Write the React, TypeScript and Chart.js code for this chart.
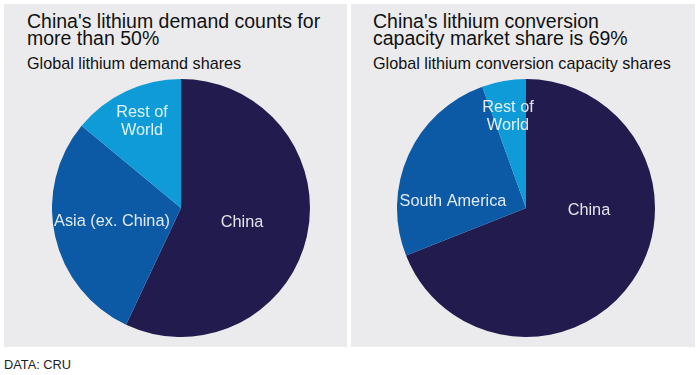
import React, { useEffect, useRef } from "react";
import { Chart, registerables } from "chart.js";

Chart.register(...registerables);

// ---- Data ----
const demandCategories = ["China", "Asia (ex. China)", "Rest of World"];
const demandShares = [57, 29, 14];
const demandLabelLines = [["China"], ["Asia (ex. China)"], ["Rest of", "World"]];

const conversionCategories = ["China", "South America", "Rest of World"];
const conversionShares = [69, 25.5, 5.5];
const conversionLabelLines = [["China"], ["South America"], ["Rest of", "World"]];

const sliceColors = ["#211c4d", "#0c5aa6", "#0e9bd8"];

// label anchors as fractions of radius from pie centre (styling only)
const demandAnchors = [
  [0.473, 0.116],
  [-0.535, 0.101],
  [-0.302, -0.674],
];
const conversionAnchors = [
  [0.488, 0.023],
  [-0.566, -0.047],
  [-0.14, -0.713],
];

const sliceLabelPlugin = {
  id: "sliceLabels",
  afterDatasetsDraw(chart: any, _args: any, opts: any) {
    const meta = chart.getDatasetMeta(0);
    const ctx = chart.ctx;
    ctx.save();
    ctx.fillStyle = opts.color;
    ctx.font = opts.font;
    ctx.textAlign = "center";
    ctx.textBaseline = "middle";
    meta.data.forEach((arc: any, i: number) => {
      const p = arc.getProps(["x", "y", "outerRadius"], true);
      const a = opts.anchors[i];
      const lines: string[] = opts.lines[i];
      const lh = opts.lineHeight;
      lines.forEach((t, j) => {
        ctx.fillText(
          t,
          p.x + a[0] * p.outerRadius,
          p.y + a[1] * p.outerRadius + (j - (lines.length - 1) / 2) * lh
        );
      });
    });
    ctx.restore();
  },
};

function Pie(props: {
  categories: string[];
  values: number[];
  lines: string[][];
  anchors: number[][];
  style: React.CSSProperties;
}) {
  const ref = useRef<HTMLCanvasElement | null>(null);
  useEffect(() => {
    if (!ref.current) return;
    const chart = new Chart(ref.current, {
      type: "pie",
      data: {
        labels: props.categories,
        datasets: [
          {
            data: props.values,
            backgroundColor: sliceColors,
            borderWidth: 0,
          },
        ],
      },
      options: {
        animation: false,
        responsive: false,
        layout: { padding: 0 },
        plugins: {
          legend: { display: false },
          tooltip: { enabled: false },
          sliceLabels: {
            anchors: props.anchors,
            lines: props.lines,
            color: "rgba(255,255,255,0.88)",
            font: '16.3px "Liberation Sans", Arial, sans-serif',
            lineHeight: 18,
          },
        } as any,
      },
      plugins: [sliceLabelPlugin as any],
    });
    return () => chart.destroy();
  }, []);
  return <canvas ref={ref} width={258} height={258} style={{ position: "absolute", ...props.style }} />;
}

const titleStyle: React.CSSProperties = {
  position: "absolute",
  fontSize: 19.5,
  lineHeight: "17px",
  color: "#111",
  margin: 0,
  whiteSpace: "nowrap",
};
const subStyle: React.CSSProperties = {
  position: "absolute",
  fontSize: 16.2,
  lineHeight: "17px",
  color: "#111",
  whiteSpace: "nowrap",
};
const panelStyle: React.CSSProperties = {
  position: "absolute",
  top: 4,
  height: 343,
  background: "#ebebed",
};

export default function App() {
  return (
    <div
      style={{
        position: "absolute",
        left: 0,
        top: 0,
        width: 698,
        height: 375,
        background: "#fff",
        fontFamily: '"Liberation Sans", Arial, sans-serif',
        overflow: "hidden",
      }}
    >
      <div style={{ ...panelStyle, left: 4, width: 343 }}>
        <div style={{ ...titleStyle, left: 23, top: 9 }}>
          China's lithium demand counts for
          <br />
          more than 50%
        </div>
        <div style={{ ...subStyle, left: 23, top: 51 }}>Global lithium demand shares</div>
        <Pie
          categories={demandCategories}
          values={demandShares}
          lines={demandLabelLines}
          anchors={demandAnchors}
          style={{ left: 48, top: 75 }}
        />
      </div>
      <div style={{ ...panelStyle, left: 351, width: 344 }}>
        <div style={{ ...titleStyle, left: 22, top: 9 }}>
          China's lithium conversion
          <br />
          capacity market share is 69%
        </div>
        <div style={{ ...subStyle, left: 22, top: 51 }}>Global lithium conversion capacity shares</div>
        <Pie
          categories={conversionCategories}
          values={conversionShares}
          lines={conversionLabelLines}
          anchors={conversionAnchors}
          style={{ left: 46, top: 75 }}
        />
      </div>
      <div
        style={{
          position: "absolute",
          left: 4,
          top: 358,
          fontSize: 12.8,
          lineHeight: "14px",
          color: "#222",
        }}
      >
        DATA: CRU
      </div>
    </div>
  );
}
